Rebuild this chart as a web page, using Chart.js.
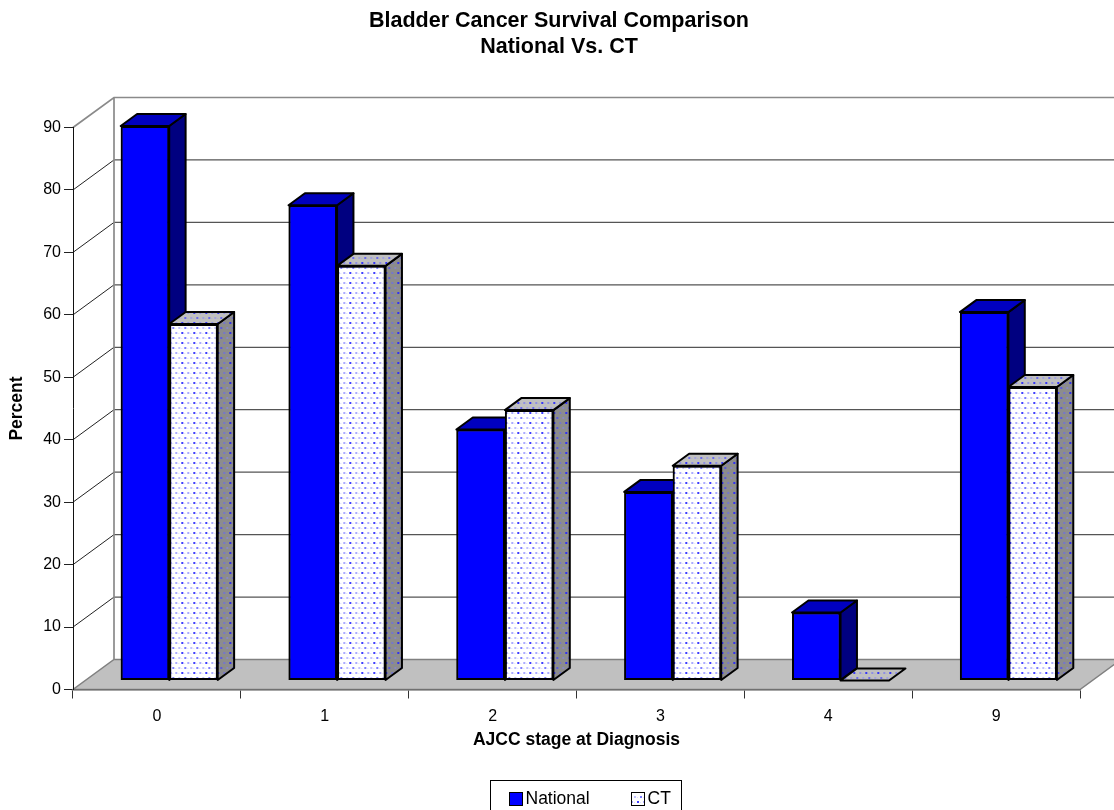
<!DOCTYPE html>
<html>
<head>
<meta charset="utf-8">
<title>Bladder Cancer Survival Comparison</title>
<script src="https://cdn.jsdelivr.net/npm/chart.js@4.4.1/dist/chart.umd.min.js"></script>
<style>
  html, body { margin: 0; padding: 0; background: #ffffff; }
  canvas { display: block; }
</style>
</head>
<body>
<canvas id="chart" width="1114" height="810"></canvas>
<script>
// Survival by AJCC stage, national figures against Connecticut
const stages = ['0', '1', '2', '3', '4', '9'];
const nationalPct = [88.8, 76.1, 40.2, 30.2, 10.9, 59.0];
const ctPct = [57.1, 66.4, 43.3, 34.4, 0, 47.0];
const seriesNames = ['National', 'CT'];
const titleLines = ['Bladder Cancer Survival Comparison', 'National Vs. CT'];
const yTitle = 'Percent';
const xTitle = 'AJCC stage at Diagnosis';

const FONT = '"Liberation Sans", Arial, Helvetica, sans-serif';

// depth of the box (back wall offset) and of the bar row inside it
const WALL_DX = 41, WALL_DY = 30;
const BAR_DX = 12.3, BAR_DY = 9;
const BAR_DEPTH_DX = 16.4, BAR_DEPTH_DY = 12;

// white / grey grounds sprinkled with blue dots
function dottedFill(base) {
  const tile = document.createElement('canvas');
  tile.width = 12; tile.height = 10;
  const g = tile.getContext('2d');
  g.fillStyle = base;
  g.fillRect(0, 0, 12, 10);
  const dots = [
    [1, 1, 2, 'rgba(40,40,255,0.9)'],
    [7, 1, 2, 'rgba(100,100,255,0.55)'],
    [4, 6, 2, 'rgba(70,70,255,0.7)'],
    [10, 6, 2, 'rgba(130,130,255,0.5)'],
    [4, 2, 1, 'rgba(120,120,255,0.25)'],
    [10, 2, 1, 'rgba(120,120,255,0.25)'],
    [1, 7, 1, 'rgba(120,120,255,0.25)'],
    [7, 7, 1, 'rgba(120,120,255,0.25)']
  ];
  for (const [x, y, s, c] of dots) { g.fillStyle = c; g.fillRect(x, y, s, s); }
  return g.createPattern(tile, 'repeat');
}

const faceStyles = [
  { front: '#0000ff', top: '#0000c0', side: '#000080' },
  { front: dottedFill('#ffffff'), top: dottedFill('#c0c0c0'), side: dottedFill('#8c8c8c') }
];

function polygon(ctx, pts, fill, stroke, width) {
  ctx.beginPath();
  ctx.moveTo(pts[0][0], pts[0][1]);
  for (let i = 1; i < pts.length; i++) ctx.lineTo(pts[i][0], pts[i][1]);
  ctx.closePath();
  if (fill) { ctx.fillStyle = fill; ctx.fill(); }
  if (stroke) { ctx.strokeStyle = stroke; ctx.lineWidth = width; ctx.stroke(); }
}

function line(ctx, x1, y1, x2, y2, color, width) {
  ctx.beginPath();
  ctx.moveTo(x1, y1);
  ctx.lineTo(x2, y2);
  ctx.strokeStyle = color;
  ctx.lineWidth = width;
  ctx.stroke();
}

// back wall, side wall and floor of the 3-D box
const wallsPlugin = {
  id: 'walls',
  beforeDraw(chart) {
    const { ctx, chartArea: a, scales: { y } } = chart;
    const L = a.left, R = a.right, T = a.top, B = a.bottom;
    ctx.save();
    ctx.fillStyle = '#ffffff';
    ctx.fillRect(0, 0, chart.width, chart.height);

    polygon(ctx, [[L, B], [R, B], [R + WALL_DX, B - WALL_DY], [L + WALL_DX, B - WALL_DY]],
      '#c0c0c0', '#808080', 1.5);

    y.ticks.forEach(t => {
      if (t.value <= y.min || t.value >= y.max) return;
      const py = y.getPixelForValue(t.value);
      line(ctx, L + WALL_DX, py - WALL_DY, R + WALL_DX, py - WALL_DY, '#555555', 1.3);
      line(ctx, L, py, L + WALL_DX, py - WALL_DY, '#222222', 1);
    });

    ctx.lineJoin = 'miter';
    ctx.beginPath();
    ctx.moveTo(L, T);
    ctx.lineTo(L + WALL_DX, T - WALL_DY);
    ctx.lineTo(R + WALL_DX, T - WALL_DY);
    ctx.moveTo(L + WALL_DX, T - WALL_DY);
    ctx.lineTo(L + WALL_DX, B - WALL_DY);
    ctx.strokeStyle = '#8a8a8a';
    ctx.lineWidth = 1.7;
    ctx.stroke();
    ctx.restore();
  }
};

// bars sit part-way into the box; each gets a lit top and a shaded side
const barsPlugin = {
  id: 'bars3d',
  beforeDatasetsDraw(chart) {
    chart.ctx.save();
    chart.ctx.translate(BAR_DX, -BAR_DY);
  },
  afterDatasetsDraw(chart) {
    const ctx = chart.ctx;
    const items = [];
    chart.data.datasets.forEach((ds, i) => {
      chart.getDatasetMeta(i).data.forEach(el => items.push({ el, i }));
    });
    items.sort((p, q) => p.el.x - q.el.x);
    ctx.lineJoin = 'round';
    for (const { el, i } of items) {
      const st = faceStyles[i];
      const left = el.x - el.width / 2, right = el.x + el.width / 2;
      const top = Math.min(el.y, el.base), base = Math.max(el.y, el.base);
      el.draw(ctx);
      if (base - top > 0.5) {
        polygon(ctx, [[right, top], [right + BAR_DEPTH_DX, top - BAR_DEPTH_DY],
          [right + BAR_DEPTH_DX, base - BAR_DEPTH_DY], [right, base]], st.side, '#000000', 2);
      }
      polygon(ctx, [[left, top], [left + BAR_DEPTH_DX, top - BAR_DEPTH_DY],
        [right + BAR_DEPTH_DX, top - BAR_DEPTH_DY], [right, top]], st.top, '#000000', 2);
    }
    ctx.restore();
  }
};

// heading and boxed key
const textPlugin = {
  id: 'headingAndKey',
  afterDraw(chart) {
    const ctx = chart.ctx;
    ctx.save();
    ctx.fillStyle = '#000000';
    ctx.textAlign = 'center';
    ctx.textBaseline = 'alphabetic';
    ctx.font = 'bold 21.5px ' + FONT;
    ctx.fillText(titleLines[0], 559, 27);
    ctx.fillText(titleLines[1], 559, 53);

    ctx.strokeStyle = '#000000';
    ctx.lineWidth = 1;
    ctx.strokeRect(490.5, 780.5, 191, 40);

    ctx.font = '17.5px ' + FONT;
    ctx.textAlign = 'left';
    ctx.textBaseline = 'middle';
    const keyX = [509.5, 631.5];
    chart.data.datasets.forEach((ds, i) => {
      ctx.fillStyle = faceStyles[i].front;
      ctx.fillRect(keyX[i], 792.5, 13, 13);
      ctx.strokeRect(keyX[i], 792.5, 13, 13);
      ctx.fillStyle = '#000000';
      ctx.fillText(ds.label, keyX[i] + 16, 799.5);
    });
    ctx.restore();
  }
};

Chart.defaults.font.family = FONT;
Chart.defaults.color = '#000000';

new Chart(document.getElementById('chart'), {
  type: 'bar',
  data: {
    labels: stages,
    datasets: [
      {
        label: seriesNames[0], data: nationalPct,
        backgroundColor: faceStyles[0].front, borderColor: '#000000', borderWidth: 2,
        borderSkipped: false, clip: false, categoryPercentage: 0.578, barPercentage: 1
      },
      {
        label: seriesNames[1], data: ctPct,
        backgroundColor: faceStyles[1].front, borderColor: '#000000', borderWidth: 2,
        borderSkipped: false, clip: false, categoryPercentage: 0.578, barPercentage: 1
      }
    ]
  },
  options: {
    responsive: false,
    animation: false,
    events: [],
    layout: { padding: { top: 127.5, right: 34, bottom: 0, left: 0 } },
    plugins: {
      legend: { display: false },
      title: { display: false },
      tooltip: { enabled: false }
    },
    scales: {
      x: {
        offset: true,
        grid: { offset: true, drawOnChartArea: false, drawTicks: true, tickLength: 9, color: '#333333', lineWidth: 1 },
        border: { display: true, color: '#707070', width: 1.5 },
        ticks: { font: { size: 16 }, padding: 8.5, color: '#000000', maxRotation: 0 },
        title: { display: true, text: xTitle, font: { size: 17.5, weight: 'bold' }, padding: { top: 0, bottom: 59.5 }, color: '#000000' },
        afterFit(scale) { scale.height = 120.5; }
      },
      y: {
        min: 0, max: 90,
        grid: { drawOnChartArea: false, drawTicks: true, tickLength: 9, color: '#222222', lineWidth: 1 },
        border: { display: true, color: '#111111', width: 1 },
        ticks: { stepSize: 10, font: { size: 16 }, padding: 3, color: '#000000' },
        title: { display: true, text: yTitle, font: { size: 17.5, weight: 'bold' }, padding: { top: 7, bottom: 0 }, color: '#000000' },
        afterFit(scale) { scale.width = 73; }
      }
    }
  },
  plugins: [wallsPlugin, barsPlugin, textPlugin]
});
</script>
</body>
</html>
